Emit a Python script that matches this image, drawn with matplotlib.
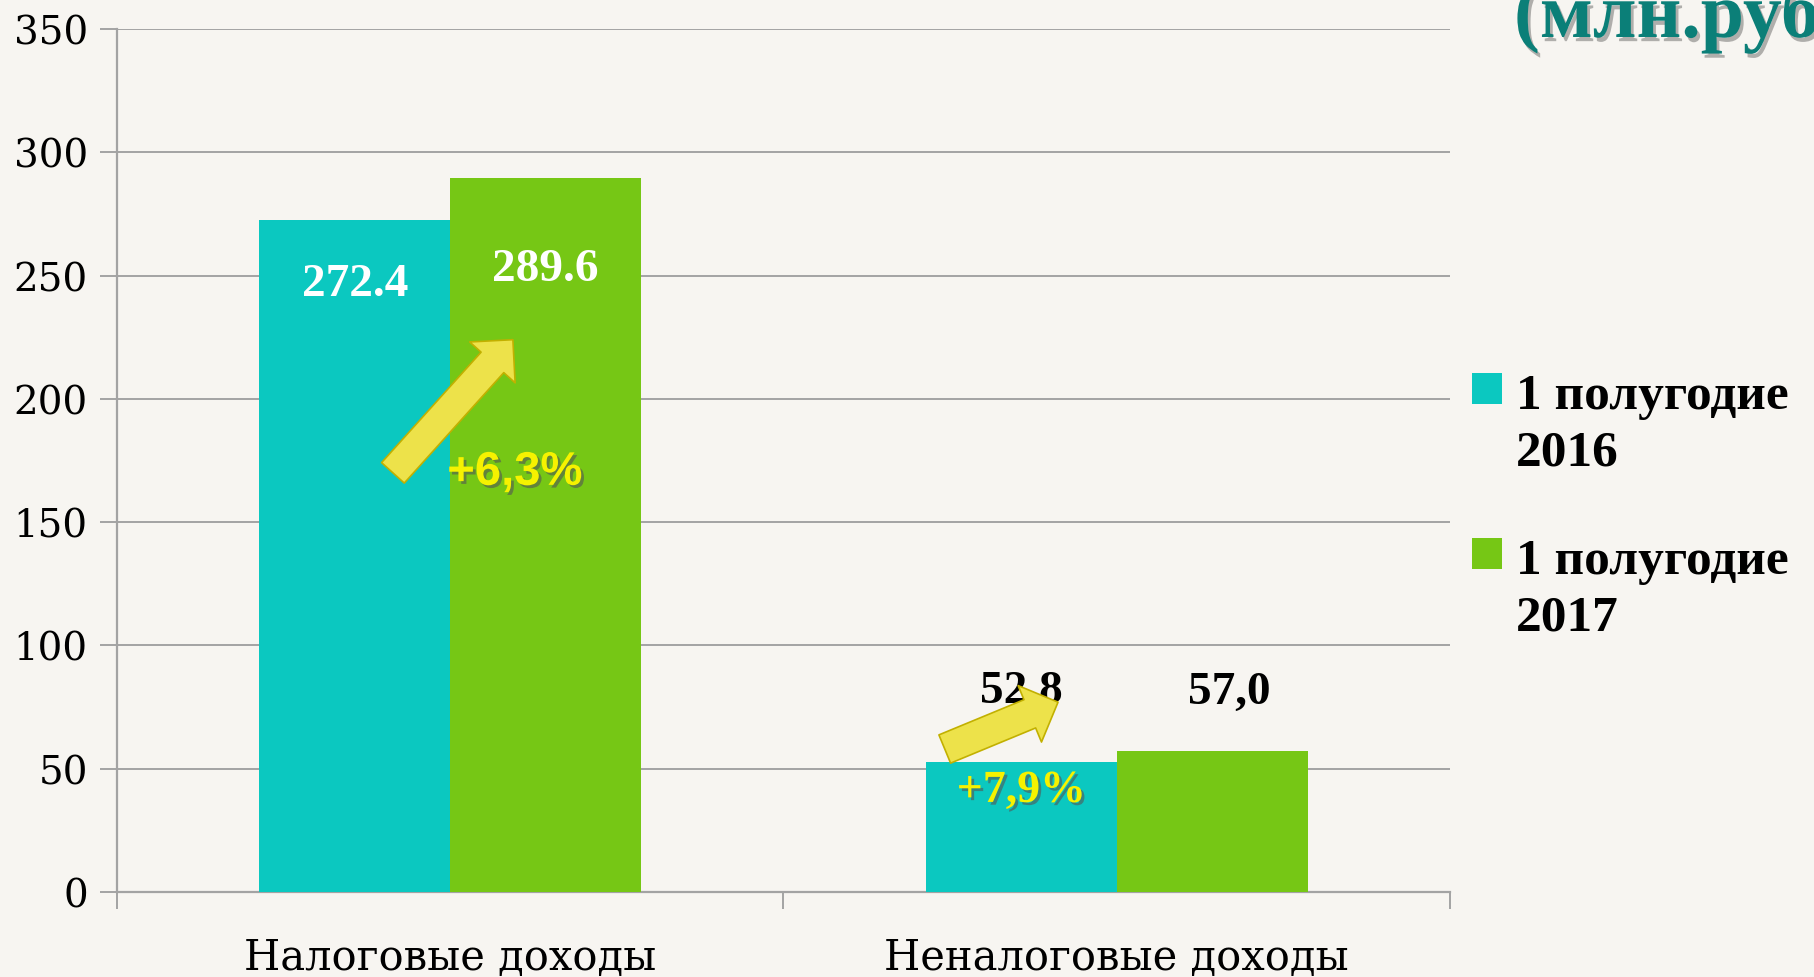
import matplotlib
matplotlib.use("Agg")
import matplotlib.pyplot as plt
import matplotlib.patheffects as pe
from matplotlib.patches import FancyArrowPatch, Rectangle
import numpy as np

# data
categories = ["Налоговые доходы", "Неналоговые доходы"]
series_names = ["1 полугодие\n2016", "1 полугодие\n2017"]
values_2016 = [272.4, 52.8]
values_2017 = [289.6, 57.0]
labels_2016 = ["272.4", "52,8"]
labels_2017 = ["289.6", "57,0"]
growth_labels = ["+6,3%", "+7,9%"]
y_ticks = [0, 50, 100, 150, 200, 250, 300, 350]

TEAL = "#0BC8C0"
GREEN = "#76C715"
BG = "#F7F5F1"
GRID = "#A3A3A3"
SERIF = ["Liberation Serif", "DejaVu Serif"]
WIDE_SERIF = ["DejaVu Serif"]

plt.rcParams["font.family"] = SERIF

fig = plt.figure(figsize=(18.14, 9.78), dpi=100, facecolor=BG)
ax = fig.add_axes([0.0645, 0.0869, 0.7348, 0.8824])
ax.set_facecolor("none")

x = np.arange(len(categories))
w = 0.2865
bars_a = ax.bar(x - w / 2, values_2016, w, color=TEAL, zorder=3)
bars_b = ax.bar(x + w / 2, values_2017, w, color=GREEN, zorder=3)

ax.set_xlim(-0.5, 1.5)
ax.set_ylim(0, 350)
ax.set_yticks(y_ticks)
ax.yaxis.grid(True, color=GRID, linewidth=1.4, zorder=0)
ax.set_axisbelow(True)
for s in ["top", "right"]:
    ax.spines[s].set_visible(False)
for s in ["left", "bottom"]:
    ax.spines[s].set_color(GRID)
    ax.spines[s].set_linewidth(1.6)
ax.tick_params(axis="y", direction="out", length=12, width=1.4, color=GRID, pad=9)
ax.set_xticks(x)
ax.set_xticklabels(categories)
ax.set_xticks([-0.5, 0.5, 1.5], minor=True)
ax.tick_params(axis="x", which="major", length=0, pad=32)
ax.tick_params(axis="x", which="minor", length=12, width=1.4, color=GRID)
for t in ax.get_yticklabels():
    t.set_fontfamily(WIDE_SERIF)
    t.set_fontsize(28)
for t in ax.get_xticklabels():
    t.set_fontfamily(WIDE_SERIF)
    t.set_fontsize(30)

# value labels: first group inside the bars, second above
label_y = [[246.5, 252.5], [81.5, 81.0]]
label_dx = [[0.0, 0.0], [0.0, 0.026]]
for i in range(len(categories)):
    inside = i == 0
    col = "white" if inside else "black"
    for j, (bars, labs) in enumerate([(bars_a, labels_2016), (bars_b, labels_2017)]):
        b = bars[i]
        ax.text(b.get_x() + b.get_width() / 2 + label_dx[i][j], label_y[i][j], labs[i],
                ha="center", va="center", fontsize=34, fontweight="bold",
                color=col, zorder=5)

# growth arrows
arrow_kw = dict(arrowstyle="simple,head_length=2.2,head_width=4.4,tail_width=2.2",
                mutation_scale=10, facecolor="#EDE24A", edgecolor="#C2B000",
                linewidth=1.2, shrinkA=0, shrinkB=0, zorder=6)
ax.add_patch(FancyArrowPatch((-0.086, 170), (0.094, 224), **arrow_kw))
ax.add_patch(FancyArrowPatch((0.742, 58), (0.912, 77), **arrow_kw))

shadow = [pe.withSimplePatchShadow(offset=(2, -2), shadow_rgbFace="#555555", alpha=0.6)]
ax.text(0.097, 170, growth_labels[0], ha="center", va="center", fontsize=34,
        fontweight="bold", color="#F6F200", family=["Liberation Sans", "DejaVu Sans"],
        zorder=7, path_effects=shadow)
ax.text(0.857, 41, growth_labels[1], ha="center", va="center", fontsize=33,
        fontweight="bold", color="#F6F200", zorder=7, path_effects=shadow)

# legend
for k, (name, col) in enumerate(zip(series_names, [TEAL, GREEN])):
    top = 374 + k * 165
    fig.patches.append(Rectangle((1472 / 1814, 1 - (top + 31) / 978), 30 / 1814, 31 / 978,
                                 transform=fig.transFigure, facecolor=col, edgecolor="none"))
    fig.text(1516 / 1814, 1 - top / 978, name, ha="left", va="top",
             fontsize=37, fontweight="bold", color="black", linespacing=1.3)

# title fragment at top right (cut by the figure edge, as in the source slide)
fig.text(1514 / 1814, 1 - 38 / 978, "(млн.руб.)", ha="left", va="baseline",
         fontsize=56, fontweight="bold", color="#0B7F78",
         path_effects=[pe.withSimplePatchShadow(offset=(2, -3), shadow_rgbFace="#444444", alpha=0.4)])

fig.savefig("out.png", dpi=100, facecolor=BG)
